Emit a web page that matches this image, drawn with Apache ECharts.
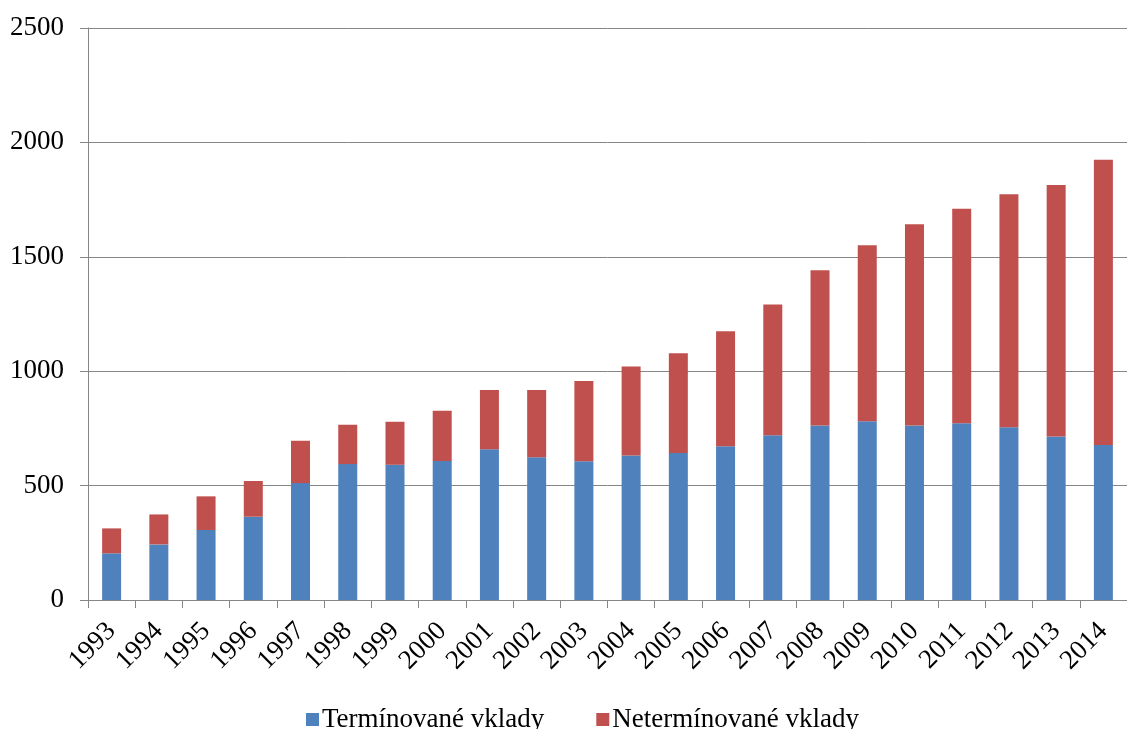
<!DOCTYPE html>
<html>
<head>
<meta charset="utf-8">
<script src="https://cdn.jsdelivr.net/npm/echarts@6/dist/echarts.min.js"></script>
<style>
  html, body { margin: 0; padding: 0; background: #fff; }
  #chart { width: 1127px; height: 729px; }
</style>
</head>
<body>
<div id="chart"></div>
<script>
// Years on the category axis
const years = ['1993','1994','1995','1996','1997','1998','1999','2000','2001','2002','2003',
               '2004','2005','2006','2007','2008','2009','2010','2011','2012','2013','2014'];

// Term deposits (bottom segment)
const terminovane = [204, 243, 306, 364, 511, 594, 591, 607, 659, 624, 606,
                     632, 642, 672, 720, 763, 781, 763, 772, 755, 715, 677];

// Demand deposits (stacked on top)
const neterminovane = [109, 131, 147, 156, 185, 172, 188, 220, 259, 294, 351,
                       388, 436, 503, 571, 678, 770, 879, 938, 1018, 1099, 1247];

// Value-axis ticks
const yMin = 0, yMax = 2500, yStep = 500;

const fontFamily = '"Liberation Serif", "DejaVu Serif", serif';
const gray = '#868686';
const fontSize = 27;

const chart = echarts.init(document.getElementById('chart'), null, { renderer: 'canvas' });

chart.setOption({
  animation: false,
  backgroundColor: '#ffffff',
  textStyle: { fontFamily: fontFamily, color: '#000' },
  grid: { left: 88, top: 28, bottom: 129, right: -10, containLabel: false },
  legend: {
    left: 301,
    top: 701,
    itemWidth: 13,
    itemHeight: 13,
    itemGap: 52,
    icon: 'rect',
    textStyle: { fontFamily: fontFamily, fontSize: fontSize, color: '#000', padding: [0, 0, 0, -2] },
    data: ['Termínované vklady', 'Netermínované vklady']
  },
  xAxis: {
    type: 'category',
    data: years,
    boundaryGap: true,
    axisLine: { lineStyle: { color: gray, width: 1 } },
    axisTick: { show: true, length: 8, lineStyle: { color: gray } },
    axisLabel: {
      rotate: 45,
      interval: 0,
      margin: 27,
      fontFamily: fontFamily,
      fontSize: fontSize,
      color: '#000'
    }
  },
  yAxis: {
    type: 'value',
    min: yMin,
    max: yMax,
    interval: yStep,
    axisLine: { show: true, lineStyle: { color: gray, width: 1 } },
    axisTick: { show: true, length: 8, lineStyle: { color: gray } },
    splitLine: { show: true, lineStyle: { color: gray, width: 1 } },
    axisLabel: {
      margin: 24,
      fontFamily: fontFamily,
      fontSize: fontSize,
      color: '#000',
      formatter: (v) => String(v)
    }
  },
  series: [
    {
      name: 'Termínované vklady',
      type: 'bar',
      stack: 'vklady',
      data: terminovane,
      barWidth: 19,
      itemStyle: { color: '#4F81BD' }
    },
    {
      name: 'Netermínované vklady',
      type: 'bar',
      stack: 'vklady',
      data: neterminovane,
      barWidth: 19,
      itemStyle: { color: '#C0504D' }
    }
  ]
});
</script>
</body>
</html>
